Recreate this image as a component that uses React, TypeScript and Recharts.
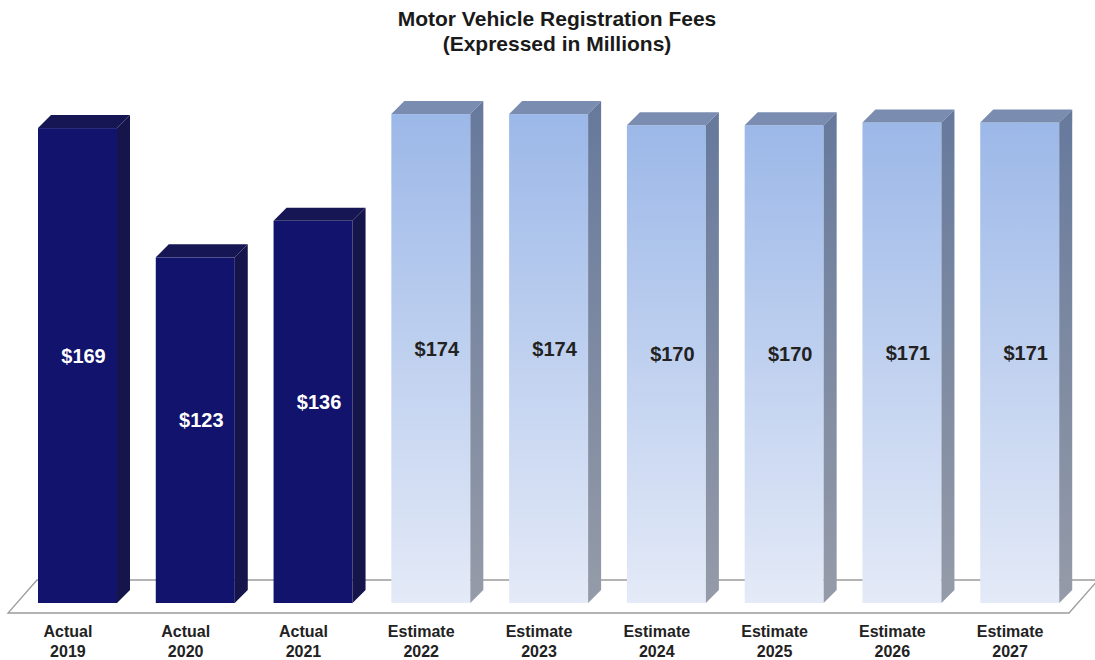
import React from 'react';
import { BarChart, Bar, XAxis, YAxis, ReferenceArea } from 'recharts';

const periodTypes = ['Actual', 'Actual', 'Actual', 'Estimate', 'Estimate', 'Estimate', 'Estimate', 'Estimate', 'Estimate'];
const years = ['2019', '2020', '2021', '2022', '2023', '2024', '2025', '2026', '2027'];
const fees = [169, 123, 136, 174, 174, 170, 170, 171, 171];

const data = years.map((yr, i) => ({
  name: `${periodTypes[i]} ${yr}`,
  type: periodTypes[i],
  value: fees[i],
}));

const FONT = '"Liberation Sans", Arial, Helvetica, sans-serif';
const DEPTH = 13;

const Bar3D = (props: any) => {
  const { x, y, width, height, payload } = props;
  const d = DEPTH;
  const actual = payload.type === 'Actual';
  const front = actual ? '#12136c' : 'url(#lightFront)';
  const top = actual ? '#161655' : '#7a8db1';
  const side = actual ? '#15154b' : 'url(#lightSide)';
  return (
    <g>
      <rect x={x} y={y} width={width} height={height} fill={front} />
      <polygon
        points={`${x},${y} ${x + d},${y - d} ${x + width + d},${y - d} ${x + width},${y}`}
        fill={top}
      />
      <polygon
        points={`${x + width},${y} ${x + width + d},${y - d} ${x + width + d},${y + height - d} ${x + width},${y + height}`}
        fill={side}
      />
      <text
        x={x + width / 2 + 6}
        y={y + height / 2 - 3}
        textAnchor="middle"
        fontFamily={FONT}
        fontWeight="bold"
        fontSize={20}
        fill={actual ? '#ffffff' : '#222222'}
      >
        ${payload.value}
      </text>
    </g>
  );
};

const Floor = (props: any) => {
  const { x, y, width, height } = props;
  const zeroY = y + height;
  const pts = [
    [x - 11, zeroY + 10],
    [x + width - 10, zeroY + 10],
    [x + width + 19, zeroY - 23],
    [x + 18, zeroY - 23],
  ]
    .map((p) => p.join(','))
    .join(' ');
  return <polygon points={pts} fill="#ffffff" stroke="#9c9c9c" strokeWidth={1.3} />;
};

const Tick = (props: any) => {
  const { x, y, payload } = props;
  const [t, yr] = String(payload.value).split(' ');
  return (
    <g>
      <text x={x - 10} y={y + 34} textAnchor="middle" fontFamily={FONT} fontWeight="bold" fontSize={16} fill="#222222">
        {t}
      </text>
      <text x={x - 10} y={y + 54} textAnchor="middle" fontFamily={FONT} fontWeight="bold" fontSize={16} fill="#222222">
        {yr}
      </text>
    </g>
  );
};

export default function App() {
  return (
    <div style={{ position: 'absolute', left: 0, top: 0, width: 1095, height: 660, background: '#ffffff' }}>
      <svg width={1095} height={60} style={{ position: 'absolute', left: 0, top: 0 }}>
        <text x={557} y={26} textAnchor="middle" fontFamily={FONT} fontWeight="bold" fontSize={21} fill="#1a1a1a">
          Motor Vehicle Registration Fees
        </text>
        <text x={557} y={51} textAnchor="middle" fontFamily={FONT} fontWeight="bold" fontSize={21} fill="#1a1a1a">
          (Expressed in Millions)
        </text>
      </svg>
      <div style={{ position: 'absolute', left: 0, top: 0 }}>
        <BarChart width={1095} height={660} data={data} margin={{ top: 41, right: 16, bottom: 0, left: 19 }}>
          <defs>
            <linearGradient id="lightFront" x1="0" y1="0" x2="0" y2="1">
              <stop offset="0%" stopColor="#9cb8e8" />
              <stop offset="100%" stopColor="#e4eaf7" />
            </linearGradient>
            <linearGradient id="lightSide" x1="0" y1="0" x2="0" y2="1">
              <stop offset="0%" stopColor="#66799c" />
              <stop offset="100%" stopColor="#959ba8" />
            </linearGradient>
          </defs>
          <ReferenceArea y1={0} y2={1} ifOverflow="visible" shape={<Floor />} />
          <XAxis
            dataKey="name"
            height={57}
            axisLine={false}
            tickLine={false}
            tickSize={0}
            tickMargin={0}
            interval={0}
            tick={<Tick />}
          />
          <YAxis hide domain={[0, 200]} />
          <Bar dataKey="value" barSize={79} isAnimationActive={false} shape={<Bar3D />} />
        </BarChart>
      </div>
    </div>
  );
}
